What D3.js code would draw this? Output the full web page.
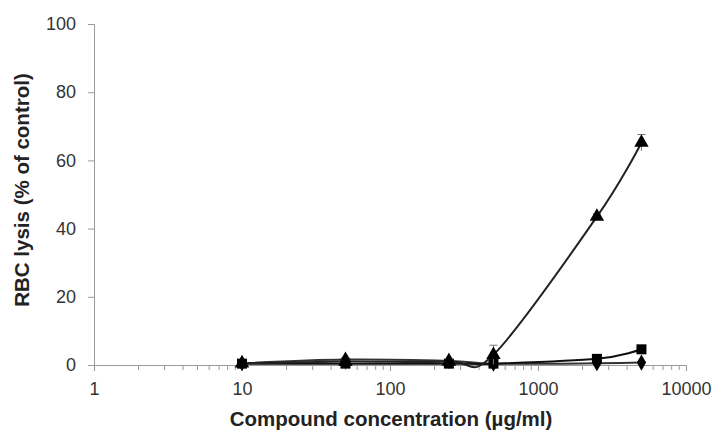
<!DOCTYPE html>
<html><head><meta charset="utf-8">
<script src="https://cdn.jsdelivr.net/npm/d3@7"></script>
<style>body{margin:0;background:#fff}svg{display:block}text{font-family:"Liberation Sans",Arial,sans-serif}</style>
</head><body><svg id="c" width="721" height="435"></svg>
<script>
const concentrations = [10, 50, 250, 500, 2500, 5000];
const triangleValues = [0.5, 1.0, 1.0, 3.0, 43.5, 65.2];
const triangleErrors = [0.3, 0.5, 0.5, 2.8, 0.8, 2.4];
const squareValues = [0.4, 0.4, 0.4, 0.4, 1.8, 4.6];
const squareErrors = [0.2, 0.3, 0.3, 0.3, 0.5, 0.6];
const diamondValues = [0.5, 1.6, 1.2, 0.4, 0.5, 0.7];
const diamondErrors = [0.2, 0.5, 0.4, 0.3, 0.3, 0.3];
const xTickLabels = [1, 10, 100, 1000, 10000];
const yTickLabels = [0, 20, 40, 60, 80, 100];

const svg = d3.select("#c");
const x = d3.scaleLog().domain([1, 10000]).range([94, 686]);
const y = d3.scaleLinear().domain([0, 100]).range([365, 24]);
const axisColor = "#9a9a9a";

// y axis
const ya = svg.append("g").attr("transform", "translate(94,0)")
  .call(d3.axisLeft(y).tickValues(yTickLabels).tickSize(6).tickPadding(12));
ya.select(".domain").attr("stroke", axisColor);
ya.selectAll(".tick line").attr("stroke", axisColor);
ya.selectAll("text").attr("font-size", 18).attr("fill", "#333");

// x axis with minor ticks
const minor = [];
for (let d = 1; d < 10000; d *= 10) for (let k = 2; k < 10; k++) minor.push(d * k);
const xa = svg.append("g").attr("transform", "translate(0,365)")
  .call(d3.axisBottom(x).tickValues(xTickLabels).tickFormat(d3.format("d")).tickSize(6).tickPadding(11));
xa.select(".domain").attr("stroke", axisColor);
xa.selectAll(".tick line").attr("stroke", axisColor);
xa.selectAll("text").attr("font-size", 18).attr("fill", "#333");
svg.append("g").selectAll("line").data(minor).join("line")
  .attr("x1", d => x(d)).attr("x2", d => x(d)).attr("y1", 365).attr("y2", 370)
  .attr("stroke", axisColor);

// titles
svg.append("text").attr("x", 391).attr("y", 426).attr("text-anchor", "middle")
  .attr("font-size", 20.5).attr("font-weight", "bold").attr("fill", "#222")
  .text("Compound concentration (µg/ml)");
svg.append("text").attr("transform", "translate(29,190) rotate(-90)").attr("text-anchor", "middle")
  .attr("font-size", 20.5).attr("font-weight", "bold").attr("fill", "#222")
  .text("RBC lysis (% of control)");

const series = [
  {vals: diamondValues, errs: diamondErrors, sym: d3.symbolDiamond, size: 75, stroke: "#333"},
  {vals: squareValues, errs: squareErrors, sym: d3.symbolSquare, size: 100, stroke: "#111"},
  {vals: triangleValues, errs: triangleErrors, sym: d3.symbolTriangle, size: 90, stroke: "#222"}
];
const line = d3.line().x(d => x(d[0])).y(d => y(d[1])).curve(d3.curveCatmullRom.alpha(0));
series.forEach(s => {
  const pts = concentrations.map((c, i) => [c, s.vals[i], s.errs[i]]);
  const g = svg.append("g");
  g.selectAll("g.err").data(pts).join("g").attr("class", "err").each(function(d) {
    const e = d3.select(this);
    const cx = x(d[0]);
    e.append("line").attr("x1", cx).attr("x2", cx).attr("y1", y(d[1] + d[2])).attr("y2", y(Math.max(0, d[1] - d[2])))
      .attr("stroke", "#777").attr("stroke-width", 1);
    e.append("line").attr("x1", cx - 4).attr("x2", cx + 4).attr("y1", y(d[1] + d[2])).attr("y2", y(d[1] + d[2]))
      .attr("stroke", "#777").attr("stroke-width", 1);
  });
  g.append("path").datum(pts).attr("d", line).attr("fill", "none")
    .attr("stroke", s.stroke).attr("stroke-width", 2);
  g.selectAll("path.m").data(pts).join("path").attr("class", "m")
    .attr("transform", d => `translate(${x(d[0])},${y(d[1])})`)
    .attr("d", d3.symbol().type(s.sym).size(s.size)).attr("fill", "#000");
});
</script></body></html>
